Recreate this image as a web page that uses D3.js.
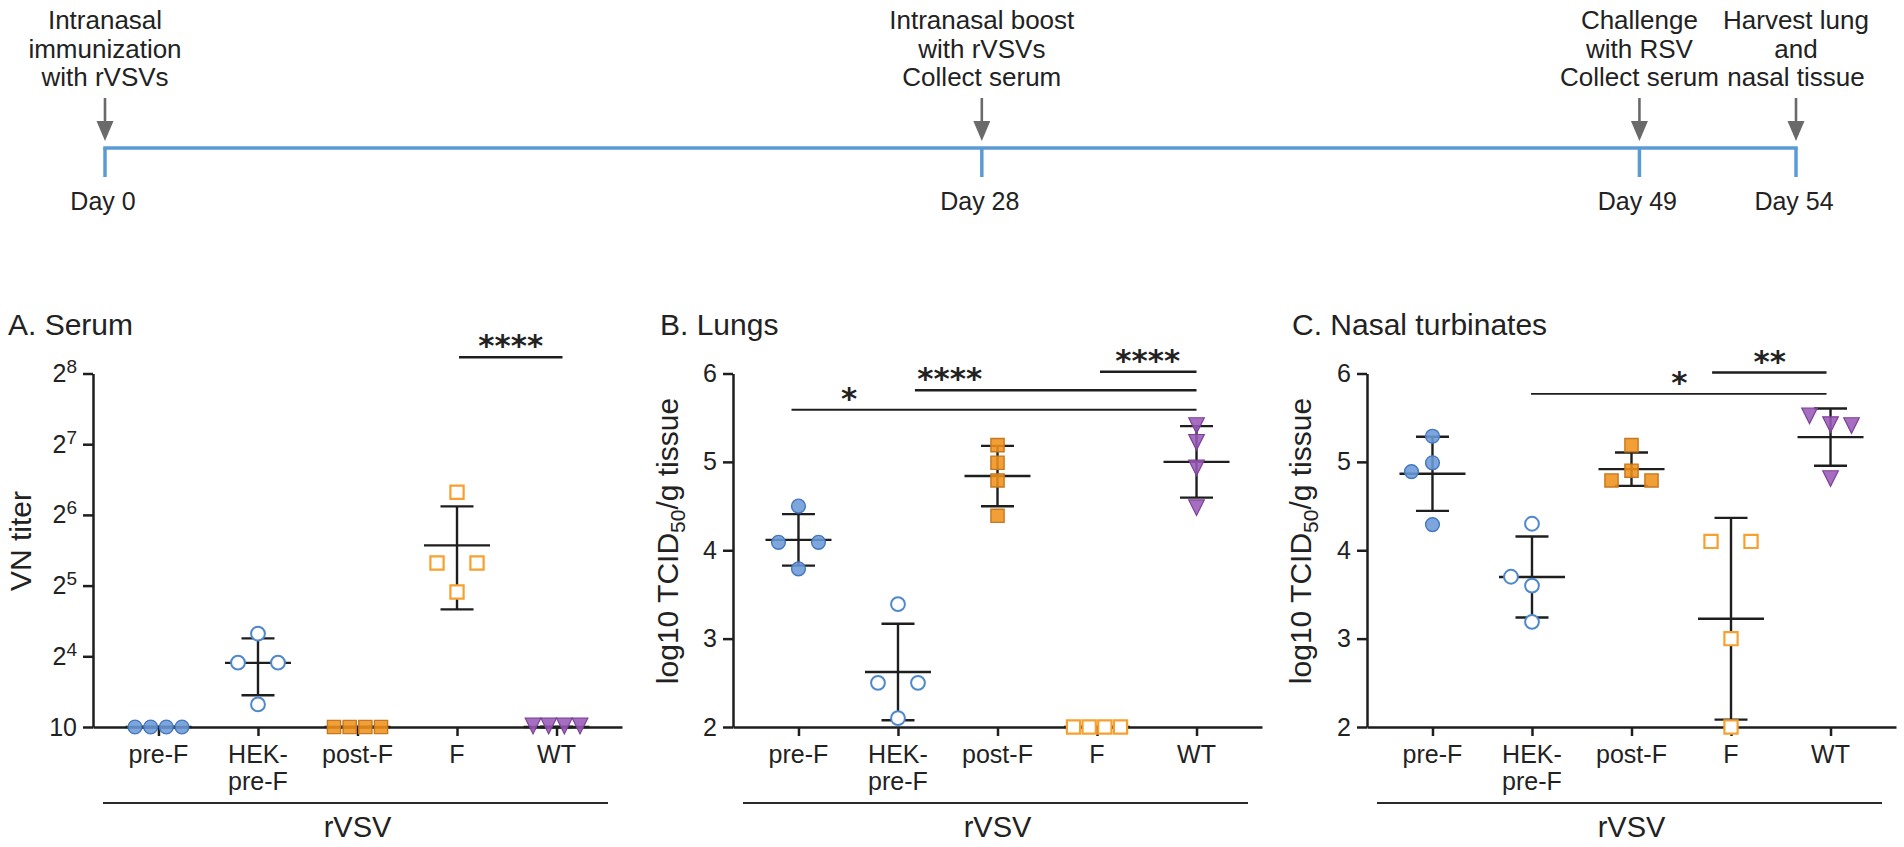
<!DOCTYPE html>
<html><head><meta charset="utf-8">
<script src="https://cdn.jsdelivr.net/npm/d3@7"></script>
<style>
html,body{margin:0;padding:0;background:#fff;}
svg{display:block;}
</style></head><body>
<svg id="chart" width="1904" height="847"></svg>
<script>
// ---------------- DATA ----------------
// Timeline
const timelineDays = [0, 28, 49, 54];
const timelineDayLabels = ["Day 0", "Day 28", "Day 49", "Day 54"];
const timelineEvents = [
  ["Intranasal", "immunization", "with rVSVs"],
  ["Intranasal boost", "with rVSVs", "Collect serum"],
  ["Challenge", "with RSV", "Collect serum"],
  ["Harvest lung", "and", "nasal tissue"]
];

// Groups
const categories = ["pre-F", "HEK-pre-F", "post-F", "F", "WT"];
const categoryLabels = [["pre-F"], ["HEK-", "pre-F"], ["post-F"], ["F"], ["WT"]];
const groupLabel = "rVSV";

// Panel A: serum VN titer, stored as log2(titer); 3 = detection limit (axis label "10")
const serumPreF  = [3, 3, 3, 3];
const serumHEK   = [4.32, 3.91, 3.91, 3.32];
const serumPostF = [3, 3, 3, 3];
const serumF     = [6.32, 5.32, 5.32, 4.91];
const serumWT    = [3, 3, 3, 3];
const serumTicks = [3, 4, 5, 6, 7, 8];
const serumTickLabels = [["10", ""], ["2", "4"], ["2", "5"], ["2", "6"], ["2", "7"], ["2", "8"]];

// Panel B: lungs, log10 TCID50/g
const lungPreF  = [4.50, 4.09, 4.09, 3.79];
const lungHEK   = [3.39, 2.50, 2.50, 2.10];
const lungPostF = [5.19, 4.99, 4.79, 4.39];
const lungF     = [2, 2, 2, 2];
const lungWT    = [5.40, 5.21, 4.92, 4.47];

// Panel C: nasal turbinates, log10 TCID50/g
const nasalPreF  = [5.29, 4.99, 4.89, 4.29];
const nasalHEK   = [4.30, 3.60, 3.70, 3.19];
const nasalPostF = [5.19, 4.90, 4.79, 4.79];
const nasalF     = [4.10, 4.10, 3.00, 1.70];
const nasalWT    = [5.41, 5.51, 5.40, 4.80];
const logTicks = [2, 3, 4, 5, 6];

// Significance annotations (category index units, value level)
const sigSerum = [{x1: 3.02, x2: 4.06, at: 3.54, level: 8.23, text: "****"}];
const sigLungs = [
  {x1: -0.07, x2: 4.0, at: 0.51, level: 5.59, text: "*"},
  {x1: 1.17, x2: 4.0, at: 1.52, level: 5.81, text: "****"},
  {x1: 3.03, x2: 4.0, at: 3.51, level: 6.02, text: "****"}
];
const sigNasal = [
  {x1: 0.99, x2: 3.96, at: 2.48, level: 5.77, text: "*"},
  {x1: 2.81, x2: 3.96, at: 3.39, level: 6.01, text: "**"}
];

// ---------------- STYLE ----------------
const FONT = '"Liberation Sans", Arial, Helvetica, sans-serif';
const INK = "#1e1e1e";
const TXT = "#222";
const markerStyles = {
  "pre-F":     {shape: "circle", fill: "#6b9bd7", stroke: "#4576bf", sw: 1.4, open: false},
  "HEK-pre-F": {shape: "circle", fill: "#ffffff", stroke: "#4f88cc", sw: 2.0, open: true},
  "post-F":    {shape: "square", fill: "#f0921c", stroke: "#c4781f", sw: 1.4, open: false},
  "F":         {shape: "square", fill: "#ffffff", stroke: "#f7a02e", sw: 2.2, open: true},
  "WT":        {shape: "tri",    fill: "#9a5ab8", stroke: "#7c4096", sw: 1.2, open: false}
};

const svg = d3.select("#chart");

// ---------------- TIMELINE ----------------
const tl = d3.scaleLinear().domain([0, 54]).range([105, 1796]);
const tlY = 148, tlColor = "#5b9bd5";
const gT = svg.append("g");
gT.append("line").attr("x1", tl(d3.min(timelineDays)) - 1.75).attr("x2", tl(d3.max(timelineDays)) + 1.75)
  .attr("y1", tlY).attr("y2", tlY).attr("stroke", tlColor).attr("stroke-width", 3.5);
timelineDays.forEach((d, i) => {
  const cx = tl(d);
  gT.append("line").attr("x1", cx).attr("x2", cx).attr("y1", tlY).attr("y2", 177)
    .attr("stroke", tlColor).attr("stroke-width", 3.5);
  gT.append("line").attr("x1", cx).attr("x2", cx).attr("y1", 98).attr("y2", 124)
    .attr("stroke", "#6a6a6a").attr("stroke-width", 2.6);
  gT.append("path").attr("d", `M${cx - 8.5},${121}L${cx + 8.5},${121}L${cx},${141}Z`).attr("fill", "#6a6a6a");
  gT.append("text").attr("x", cx - 2).attr("y", 210).attr("text-anchor", "middle")
    .attr("font-family", FONT).attr("font-size", 25).attr("fill", TXT).text(timelineDayLabels[i]);
  timelineEvents[i].forEach((line, k) => {
    gT.append("text").attr("x", cx).attr("y", 29 + k * 28.5).attr("text-anchor", "middle")
      .attr("font-family", FONT).attr("font-size", 26).attr("fill", TXT).text(line);
  });
});

// ---------------- PANELS ----------------
function markerPath(shape) {
  if (shape === "circle") return d3.symbol(d3.symbolCircle, Math.PI * 6.9 * 6.9)();
  if (shape === "square") return d3.symbol(d3.symbolSquare, 13.2 * 13.2)();
  return "M-7.8,-8.8L7.8,-8.8L0,6.8Z";
}

function layoutOffsets(values, py) {
  const n = values.length;
  const off = new Array(n).fill(null);
  const ties = d3.group(d3.range(n), i => values[i]);
  for (const [, idx] of ties) {
    if (idx.length > 1) {
      const s = Math.min(40, 47 / (idx.length - 1));
      idx.forEach((i, k) => off[i] = (k - (idx.length - 1) / 2) * s);
    }
  }
  const D = 21, R = 14;
  for (let i = 0; i < n; i++) {
    if (off[i] !== null) continue;
    for (const c of [0, -D, D, -2 * D, 2 * D]) {
      const hit = d3.range(n).some(j => off[j] !== null && Math.hypot(off[j] - c, py[j] - py[i]) < R);
      if (!hit) { off[i] = c; break; }
    }
    if (off[i] === null) off[i] = 0;
  }
  return off;
}

const panels = [
  {title: "A. Serum", titleX: 8, axisX: 93, domain: [3, 8], ticks: serumTicks, tickLabels: serumTickLabels,
   groups: [serumPreF, serumHEK, serumPostF, serumF, serumWT], linearStats: true,
   yTitle: [["VN titer", false]], yTitleX: 31, sig: sigSerum},
  {title: "B. Lungs", titleX: 660, axisX: 733, domain: [2, 6], ticks: logTicks, tickLabels: null,
   groups: [lungPreF, lungHEK, lungPostF, lungF, lungWT], linearStats: false,
   yTitle: [["log10 TCID", false], ["50", true], ["/g tissue", false]], yTitleX: 678, sig: sigLungs},
  {title: "C. Nasal turbinates", titleX: 1292, axisX: 1367, domain: [2, 6], ticks: logTicks, tickLabels: null,
   groups: [nasalPreF, nasalHEK, nasalPostF, nasalF, nasalWT], linearStats: false,
   yTitle: [["log10 TCID", false], ["50", true], ["/g tissue", false]], yTitleX: 1311, sig: sigNasal}
];

const BASE = 727, TOP = 373.5;

panels.forEach(p => {
  const g = svg.append("g");
  const x = d3.scalePoint().domain(categories).range([p.axisX, p.axisX + 529]).padding(0.658);
  const y = d3.scaleLinear().domain(p.domain).range([BASE, TOP]);
  const yc = y.copy().clamp(true);

  // title
  g.append("text").attr("x", p.titleX).attr("y", 335).attr("font-family", FONT)
    .attr("font-size", 30).attr("fill", TXT).text(p.title);

  // y axis
  const ya = g.append("g").attr("transform", `translate(${p.axisX},0)`)
    .call(d3.axisLeft(y).tickValues(p.ticks).tickSize(10).tickSizeOuter(0).tickPadding(6).tickFormat(""));
  ya.attr("font-family", FONT).attr("font-size", 25);
  ya.select(".domain").attr("stroke", INK).attr("stroke-width", 2.5);
  ya.selectAll(".tick line").attr("stroke", INK).attr("stroke-width", 2.5);
  ya.selectAll(".tick text").attr("fill", TXT).each(function(d, i) {
    const t = d3.select(this);
    if (p.tickLabels) {
      const lab = p.tickLabels[i];
      t.text(lab[0]);
      if (lab[1]) t.append("tspan").attr("dy", -9).attr("font-size", 19).text(lab[1]);
    } else {
      t.text(d);
    }
  });

  // x axis
  const xa = g.append("g").attr("transform", `translate(0,${BASE})`)
    .call(d3.axisBottom(x).tickSize(9).tickSizeOuter(0).tickFormat(""));
  xa.select(".domain").attr("stroke", INK).attr("stroke-width", 2.5);
  xa.selectAll(".tick line").attr("stroke", INK).attr("stroke-width", 2.5);

  categories.forEach((c, i) => {
    categoryLabels[i].forEach((ln, k) => {
      g.append("text").attr("x", x(c)).attr("y", 763 + k * 27).attr("text-anchor", "middle")
        .attr("font-family", FONT).attr("font-size", 25).attr("fill", TXT).text(ln);
    });
  });

  // group bracket
  g.append("line").attr("x1", p.axisX + 10).attr("x2", p.axisX + 515).attr("y1", 803).attr("y2", 803)
    .attr("stroke", "#2a2a2a").attr("stroke-width", 2);
  g.append("text").attr("x", x(categories[2])).attr("y", 837).attr("text-anchor", "middle")
    .attr("font-family", FONT).attr("font-size", 29).attr("fill", TXT).text(groupLabel);

  // y title
  const yt = g.append("text").attr("transform", `translate(${p.yTitleX},541) rotate(-90)`)
    .attr("text-anchor", "middle").attr("font-family", FONT).attr("font-size", 30).attr("fill", TXT);
  let shifted = false;
  p.yTitle.forEach(([s, sub]) => {
    const ts = yt.append("tspan").text(s);
    if (sub) { ts.attr("dy", 7).attr("font-size", 21); shifted = true; }
    else if (shifted) { ts.attr("dy", -7); shifted = false; }
  });

  // error bars + points
  categories.forEach((c, ci) => {
    const vals = p.groups[ci];
    let m, lo, hi;
    if (p.linearStats) {
      const lin = vals.map(v => Math.pow(2, v));
      const mm = d3.mean(lin), sd = d3.deviation(lin) || 0;
      m = Math.log2(mm); hi = Math.log2(mm + sd); lo = Math.log2(Math.max(mm - sd, 1e-9));
    } else {
      const sd = d3.deviation(vals) || 0;
      m = d3.mean(vals); hi = m + sd; lo = m - sd;
    }
    const cx = x(c);
    const eb = g.append("g").attr("stroke", INK).attr("stroke-width", 2.4);
    eb.append("line").attr("x1", cx).attr("x2", cx).attr("y1", yc(lo)).attr("y2", yc(hi));
    eb.append("line").attr("x1", cx - 16.5).attr("x2", cx + 16.5).attr("y1", yc(hi)).attr("y2", yc(hi));
    eb.append("line").attr("x1", cx - 16.5).attr("x2", cx + 16.5).attr("y1", yc(lo)).attr("y2", yc(lo));
    eb.append("line").attr("x1", cx - 33).attr("x2", cx + 33).attr("y1", yc(m)).attr("y2", yc(m));

    const st = markerStyles[c];
    const py = vals.map(v => yc(v));
    const off = layoutOffsets(vals, py);
    g.append("g").selectAll("path").data(vals).join("path")
      .attr("d", markerPath(st.shape))
      .attr("transform", (v, i) => `translate(${cx + off[i]},${py[i]})`)
      .attr("fill", st.fill).attr("fill-opacity", st.open ? 1 : 0.88)
      .attr("stroke", st.stroke).attr("stroke-width", st.sw);
  });

  // significance
  const xi = idx => x(categories[0]) + idx * x.step();
  p.sig.forEach(s => {
    g.append("line").attr("x1", xi(s.x1)).attr("x2", xi(s.x2)).attr("y1", y(s.level)).attr("y2", y(s.level))
      .attr("stroke", INK).attr("stroke-width", s.text.length > 1 ? 2.5 : 1.8);
    g.append("text").attr("x", xi(s.at)).attr("y", y(s.level) - 1).attr("text-anchor", "middle")
      .attr("font-family", '"DejaVu Sans", sans-serif').attr("font-weight", "bold")
      .attr("font-size", 31).attr("fill", TXT).text(s.text);
  });
});
</script>
</body></html>
